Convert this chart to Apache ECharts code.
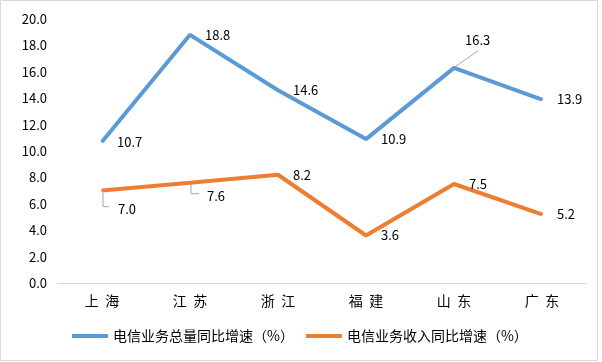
<!DOCTYPE html>
<html><head><meta charset="utf-8">
<script src="https://cdn.jsdelivr.net/npm/echarts@6/dist/echarts.min.js"></script>
<style>html,body{margin:0;padding:0;background:#fff}#c{width:602px;height:362px}</style>
</head><body><div id="c"></div>
<script>
var categories = ['上  海', '江  苏', '浙  江', '福  建', '山  东', '广  东'];
var totalGrowth = [10.7, 18.8, 14.6, 10.9, 16.3, 13.9];
var revenueGrowth = [7.0, 7.6, 8.2, 3.6, 7.5, 5.2];
var seriesNames = ['电信业务总量同比增速（%）', '电信业务收入同比增速（%）'];
var yTicks = [0, 2, 4, 6, 8, 10, 12, 14, 16, 18, 20];
// indices of labels that are moved away from their point (with leader lines)
var blueMoved = [4];
var orangeMoved = [0, 1];

var FF = '"Noto Sans CJK SC", "Microsoft YaHei", sans-serif';
var chart = echarts.init(document.getElementById('c'));

var blueShift = {4: [-4, -28]};
var orangeShift = {0: [1, 18], 1: [2, 13]};

function layout(shift) {
  return function (p) {
    var s = shift[p.dataIndex];
    if (s) return {dx: s[0], dy: s[1]};
    return {};
  };
}

// leader line data built from the series values
var leaderData = [];
blueMoved.forEach(function (i) { leaderData.push([i, totalGrowth[i], 0]); });
orangeMoved.forEach(function (i) { leaderData.push([i, revenueGrowth[i], 1]); });

function renderLeader(params, api) {
  var p = api.coord([api.value(0), api.value(1)]);
  var kind = api.value(2);
  var pts;
  if (kind === 0) {
    pts = [[p[0] + 1, p[1] - 1], [p[0] + 24, p[1] - 17]];
  } else if (api.value(0) === 0) {
    pts = [[p[0] + 1, p[1] + 2], [p[0] + 1, p[1] + 16], [p[0] + 7, p[1] + 16]];
  } else {
    pts = [[p[0] + 1, p[1] + 1], [p[0] + 1, p[1] + 11], [p[0] + 9, p[1] + 11]];
  }
  return {type: 'polyline', shape: {points: pts},
    style: {stroke: '#a6a6a6', lineWidth: 1, fill: null}, z2: 0};
}

chart.setOption({
  animation: false,
  graphic: [{type: 'rect', shape: {x: 0.5, y: 0.5, width: 597, height: 360},
    style: {fill: 'none', stroke: '#d9d9d9', lineWidth: 1}, silent: true}],
  grid: {left: 58, right: 16, top: 19, bottom: 79},
  legend: {
    bottom: 14, left: 67, itemGap: 12, itemWidth: 36, itemHeight: 4, icon: 'rect',
    textStyle: {fontSize: 14, color: '#000', fontFamily: FF},
    data: seriesNames
  },
  xAxis: {
    type: 'category', data: categories, boundaryGap: true,
    axisLine: {lineStyle: {color: '#d9d9d9', width: 1}},
    axisTick: {show: false},
    axisLabel: {fontSize: 14, color: '#000', margin: 11, fontFamily: FF}
  },
  yAxis: {
    type: 'value', min: yTicks[0], max: yTicks[yTicks.length - 1], interval: 2,
    axisLine: {show: false}, axisTick: {show: false}, splitLine: {show: false},
    axisLabel: {fontSize: 13, color: '#000', margin: 11, fontFamily: FF,
      formatter: function (v) { return v.toFixed(1); }}
  },
  series: [
    {
      type: 'custom', name: 'leaders', data: leaderData, renderItem: renderLeader,
      silent: true, z: 1
    },
    {
      name: seriesNames[0], type: 'line', data: totalGrowth, z: 3,
      color: '#5b9bd5', symbol: 'circle', symbolSize: 2,
      lineStyle: {width: 4, color: '#5b9bd5'},
      label: {show: true, position: 'right', distance: 14, fontSize: 13, color: '#000', fontFamily: FF,
        formatter: function (p) { return p.value.toFixed(1); }},
      labelLayout: layout(blueShift)
    },
    {
      name: seriesNames[1], type: 'line', data: revenueGrowth, z: 3,
      color: '#ed7d31', symbol: 'circle', symbolSize: 2,
      lineStyle: {width: 4, color: '#ed7d31'},
      label: {show: true, position: 'right', distance: 14, fontSize: 13, color: '#000', fontFamily: FF,
        formatter: function (p) { return p.value.toFixed(1); }},
      labelLayout: layout(orangeShift)
    }
  ]
});
</script></body></html>
